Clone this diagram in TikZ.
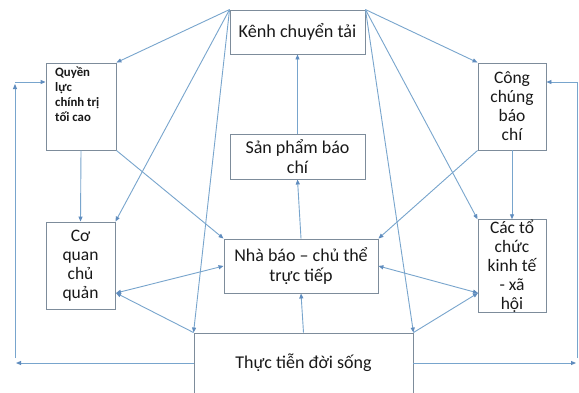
\documentclass[tikz,border=0pt]{standalone}
\usepackage{fontspec}
\setmainfont{Carlito}
\usetikzlibrary{arrows.meta,calc}
\definecolor{linec}{RGB}{120,165,205}
\definecolor{tipc}{RGB}{95,140,190}
\definecolor{boxc}{RGB}{125,140,155}
\definecolor{txt}{RGB}{25,25,25}
\tikzset{
  box/.style={draw=boxc, line width=0.9pt, fill=white, text=txt, align=center, inner sep=0pt,
    font=\fontsize{17.5}{19}\selectfont},
  conn/.style={draw=linec, line width=0.9pt, -{Triangle[length=5pt,width=4pt,fill=tipc,color=tipc]}},
  dconn/.style={draw=linec, line width=0.9pt, {Triangle[length=5pt,width=4pt,fill=tipc,color=tipc]}-{Triangle[length=5pt,width=4pt,fill=tipc,color=tipc]}},
  plain/.style={draw=linec, line width=0.9pt}
}
\begin{document}
\begin{tikzpicture}[x=1pt,y=-1pt]
\useasboundingbox (0,0) rectangle (579,392);
\clip (0,0) rectangle (579,392);
\fill[white] (0,0) rectangle (579,392);
\coordinate (cqR) at (116,293);
\coordinate (ctL) at (478,293);
\coordinate (L1) at (16,363);
\coordinate (L2) at (15,358);
\coordinate (L3) at (15,84);
\coordinate (L4) at (15,82);
\coordinate (R1) at (576,363);
\coordinate (R2) at (577,358);
\coordinate (R3) at (577,82);

\node[box, minimum width=135, minimum height=44, font=\fontsize{18.2}{19}\selectfont] (kenh) at (297.5,32) {Kênh chuyển tải};
\node[box, minimum width=70, minimum height=87] (quyen) at (81,106.5) {};
\node[anchor=north west, inner sep=0pt, text=txt, align=left, font=\fontsize{12.8}{15}\selectfont\bfseries] (quyentxt) at (55,67) {Quyền\\lực\\chính trị\\tối cao};
\node[box, minimum width=135, minimum height=45, font=\fontsize{18}{20}\selectfont] (sanpham) at (297.5,156.5) {Sản phẩm báo\\chí};
\node[box, minimum width=68, minimum height=87] (congchung) at (512,106.5) {Công\\chúng\\báo\\chí};
\node[box, minimum width=69, minimum height=87] (coquan) at (80.5,265.5) {Cơ\\quan\\chủ\\quản};
\node[box, minimum width=154, minimum height=54, font=\fontsize{18}{20}\selectfont] (nhabao) at (301,266) {Nhà báo – chủ thể\\trực tiếp};
\node[box, minimum width=68, minimum height=86, fill=none] (cacto) at (512,266) {Các tổ\\chức\\kinh tế\\- xã\\hội};
\node[box, minimum width=219, minimum height=60, font=\fontsize{18}{20}\selectfont] (thuc) at (303.5,363) {Thực tiễn đời sống};

\draw[conn] (kenh.north west) -- (quyen.north east);
\draw[conn] (kenh.north west) -- (coquan.north east);
\draw[conn] (kenh.north west) -- (thuc.north west);
\draw[conn] (kenh.north east) -- (congchung.north west);
\draw[conn] (kenh.north east) -- (cacto.north west);
\draw[conn] (kenh.north east) -- (thuc.north east);
\draw[conn] (quyen.south east) -- (nhabao.north west);
\draw[conn] (quyen.south) -- (coquan.north);
\draw[conn] (congchung.south west) -- (nhabao.north east);
\draw[conn] (congchung.south) -- (cacto.north);
\draw[conn] (sanpham.north) -- (kenh.south);
\draw[conn] (nhabao.north) -- (sanpham.south);
\draw[conn] (thuc.north) -- (nhabao.south);
\draw[dconn] (cqR) -- (nhabao.west);
\draw[conn] (thuc.north west) -- (cqR);
\draw[dconn] (nhabao.east) -- (ctL);
\draw[conn] (thuc.north east) -- (ctL);
\draw[conn] (thuc.west |- L1) -- (L1);
\draw[conn] (L2) -- (L3);
\draw[conn] (L4) -- (quyen.west |- L4);
\draw[conn] (thuc.east |- R1) -- (R1);
\draw[conn] (R2) -- (R3) -- (congchung.east |- R3);
\end{tikzpicture}
\end{document}
